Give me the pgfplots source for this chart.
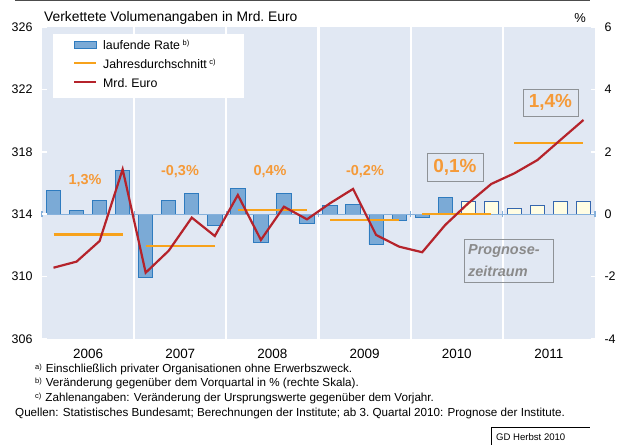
\documentclass[border=0pt]{standalone}
\usepackage{pgfplots}
\pgfplotsset{compat=1.18}
\usepackage{fontspec}
\setmainfont{Liberation Sans}
\definecolor{bg}{HTML}{E1E8F3}
\definecolor{barfill}{HTML}{7BAAD6}
\definecolor{barline}{HTML}{2E7BBF}
\definecolor{fcfill}{HTML}{FFFDE3}
\definecolor{fcline}{HTML}{3566AE}
\definecolor{redline}{HTML}{B5232B}
\definecolor{avgorange}{HTML}{F7A21B}
\definecolor{laborange}{HTML}{F59A38}
\definecolor{zeroblue}{HTML}{86B1DC}
\definecolor{boxgray}{HTML}{8E9296}
\definecolor{textgray}{HTML}{8A8A8A}

\pgfplotstableread{
x y
0.5 0.76
1.5 0.13
2.5 0.43
3.5 1.40
4.5 -2.04
5.5 0.44
6.5 0.66
7.5 -0.37
8.5 0.82
9.5 -0.91
10.5 0.66
11.5 -0.29
12.5 0.29
13.5 0.31
14.5 -0.97
15.5 -0.19
16.5 -0.12
17.5 0.55
}\ratedata

\pgfplotstableread{
x y
18.5 0.42
19.5 0.42
20.5 0.20
21.5 0.29
22.5 0.40
23.5 0.40
}\forecastdata

\pgfplotstableread{
x y
0.5 310.57
1.5 310.96
2.5 312.28
3.5 316.88
4.5 310.25
5.5 311.66
6.5 313.78
7.5 312.60
8.5 315.23
9.5 312.35
10.5 314.48
11.5 313.67
12.5 314.70
13.5 315.62
14.5 312.67
15.5 311.92
16.5 311.56
17.5 313.31
18.5 314.70
19.5 315.94
20.5 316.62
21.5 317.47
22.5 318.76
23.5 320.04
}\eurodata

\newcommand{\fn}[1]{\raisebox{0.6ex}{\fontsize{7.5}{8}\selectfont #1}\hspace{4bp}}

\begin{document}
\begin{tikzpicture}[x=1bp,y=1bp]
\path[use as bounding box] (0,0) rectangle (618,445);
% right scale: bars
\begin{axis}[
  at={(42bp,106bp)}, anchor=south west,
  scale only axis, width=553bp, height=312bp,
  xmin=0, xmax=24, ymin=-4, ymax=6,
  axis line style={draw=none},
  axis background/.style={fill=bg},
  xtick={2,6,10,14,18,22},
  xticklabels={2006,2007,2008,2009,2010,2011},
  xticklabel style={font=\fontsize{13.5}{16}\selectfont, yshift=-7bp},
  extra x ticks={4,8,12,16,20},
  extra x tick labels={},
  extra x tick style={grid=major, major grid style={white, line width=2.2bp}, major tick length=0pt},
  ytick={-4,-2,0,2,4,6},
  yticklabels={-4,-2,0,2,4,6},
  ytick pos=right,
  yticklabel pos=right,
  yticklabel style={font=\fontsize{12.5}{15}\selectfont, anchor=west, xshift=6bp},
  tick align=inside,
  major tick length=4.5bp,
  xtick style={draw=none},
  ytick style={white, line width=1.6bp},
  clip=false,
]
\addplot[ybar, bar width=0.62, bar shift=0pt, fill=barfill, draw=barline, line width=0.9bp] table[x=x,y=y] {\ratedata};
\addplot[ybar, bar width=0.62, bar shift=0pt, fill=fcfill, draw=fcline, line width=0.9bp] table[x=x,y=y] {\forecastdata};
\draw[zeroblue, line width=1.3bp] (axis cs:0,0) -- (axis cs:24,0);
\pgfplotsinvokeforeach{0,4,8,12,16,20,24}{
  \draw[zeroblue, line width=1.1bp] (axis cs:#1,-0.1) -- (axis cs:#1,0.1);
}
\end{axis}
% left scale: levels
\begin{axis}[
  at={(42bp,106bp)}, anchor=south west,
  scale only axis, width=553bp, height=312bp,
  xmin=0, xmax=24, ymin=306, ymax=326,
  axis line style={draw=none},
  xtick=\empty,
  ytick={306,310,314,318,322,326},
  yticklabels={306,310,314,318,322,326},
  ytick pos=left,
  yticklabel style={font=\fontsize{12.5}{15}\selectfont, anchor=east, xshift=-6bp},
  tick align=inside,
  major tick length=4.5bp,
  ytick style={white, line width=1.6bp},
  clip=false,
]
\addplot[avgorange, line width=2.2bp, no marks] coordinates {(0.5,312.70) (3.5,312.70)};
\addplot[avgorange, line width=2.2bp, no marks] coordinates {(4.5,311.96) (7.5,311.96)};
\addplot[avgorange, line width=2.2bp, no marks] coordinates {(8.5,314.25) (11.5,314.25)};
\addplot[avgorange, line width=2.2bp, no marks] coordinates {(12.5,313.63) (15.5,313.63)};
\addplot[avgorange, line width=2.2bp, no marks] coordinates {(16.5,314.03) (19.5,314.03)};
\addplot[avgorange, line width=2.2bp, no marks] coordinates {(20.5,318.54) (23.5,318.54)};
\addplot[redline, line width=2.2bp, no marks, line join=miter] table[x=x,y=y] {\eurodata};
\end{axis}
% titles
\node[anchor=west, inner sep=0pt, font=\fontsize{13.9}{16}\selectfont] at (44,427) {Verkettete Volumenangaben in Mrd.\ Euro};
\node[anchor=center, inner sep=0pt, font=\fontsize{13}{16}\selectfont] at (580,427) {\%};
\draw[gray!60!black, line width=1.2bp] (15,444.4) -- (590,444.4);
% legend
\fill[white] (53,347) rectangle (244,411);
\filldraw[fill=barfill, draw=barline, line width=0.8bp] (74,396.2) rectangle (96,403.8);
\draw[avgorange, line width=2.2bp] (74,382) -- (96,382);
\draw[redline, line width=2.2bp] (74,363) -- (96,363);
\node[anchor=west, inner sep=0pt, font=\fontsize{12.4}{14}\selectfont] at (103,400) {laufende Rate\hspace{2.5bp}\raisebox{0.55ex}{\fontsize{7.5}{8}\selectfont b)}};
\node[anchor=west, inner sep=0pt, font=\fontsize{12.4}{14}\selectfont] at (103,381) {Jahresdurchschnitt\hspace{2.5bp}\raisebox{0.55ex}{\fontsize{7.5}{8}\selectfont c)}};
\node[anchor=west, inner sep=0pt, font=\fontsize{12.4}{14}\selectfont] at (103,362) {Mrd.\ Euro};
% rate labels
\node[laborange, font=\bfseries\fontsize{14.5}{17}\selectfont] at (85,264) {1,3\%};
\node[laborange, font=\bfseries\fontsize{14.5}{17}\selectfont] at (180,273) {-0,3\%};
\node[laborange, font=\bfseries\fontsize{14.5}{17}\selectfont] at (270,273) {0,4\%};
\node[laborange, font=\bfseries\fontsize{14.5}{17}\selectfont] at (365,273) {-0,2\%};
\draw[boxgray, line width=0.8bp] (427,264) rectangle (483,292);
\node[laborange, font=\bfseries\fontsize{19}{22}\selectfont] at (455,278) {0,1\%};
\draw[boxgray, line width=0.8bp] (523,329) rectangle (578,356);
\node[laborange, font=\bfseries\fontsize{19}{22}\selectfont] at (550.5,342.5) {1,4\%};
% Prognosezeitraum
\draw[boxgray, line width=0.8bp] (464,163) rectangle (553,206);
\node[anchor=west, inner sep=0pt, textgray, font=\bfseries\itshape\fontsize{14.5}{17}\selectfont] at (468,194) {Prognose-};
\node[anchor=west, inner sep=0pt, textgray, font=\bfseries\itshape\fontsize{14.5}{17}\selectfont] at (468,174) {zeitraum};
% footnotes
\node[anchor=base west, inner sep=0pt, font=\fontsize{11.7}{13}\selectfont] at (35,72) {\fn{a)}Einschließlich privater Organisationen ohne Erwerbszweck.};
\node[anchor=base west, inner sep=0pt, font=\fontsize{11.7}{13}\selectfont] at (35,58) {\fn{b)}Veränderung gegenüber dem Vorquartal in \% (rechte Skala).};
\node[anchor=base west, inner sep=0pt, font=\fontsize{11.7}{13}\selectfont] at (35,43) {\fn{c)}Zahlenangaben: Veränderung der Ursprungswerte gegenüber dem Vorjahr.};
\node[anchor=base west, inner sep=0pt, font=\fontsize{11.7}{13}\selectfont] at (15,28) {Quellen: Statistisches Bundesamt; Berechnungen der Institute; ab 3.\ Quartal 2010: Prognose der Institute.};
% GD box
\draw[black, line width=0.8bp] (491,0) -- (491,18) -- (590,18);
\node[anchor=base west, inner sep=0pt, font=\fontsize{9.6}{11}\selectfont] at (496,4.5) {GD Herbst 2010};
\end{tikzpicture}
\end{document}
